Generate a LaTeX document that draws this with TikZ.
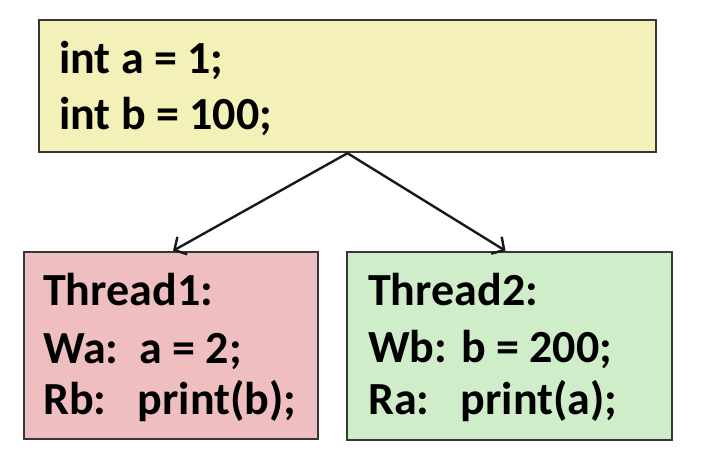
\documentclass[tikz,border=0pt]{standalone}
\usepackage{fontspec}
\setmainfont{Carlito}
\usetikzlibrary{arrows.meta}
\definecolor{boxyellow}{RGB}{244,241,184}
\definecolor{boxpink}{RGB}{239,190,192}
\definecolor{boxgreen}{RGB}{207,237,201}
\definecolor{boxline}{RGB}{55,55,55}
\tikzset{
  codebox/.style={draw=boxline, line width=2.4pt, rectangle, inner sep=0pt},
  codetext/.style={anchor=base west, inner sep=0pt, font=\fontsize{46}{56}\bfseries\selectfont},
  flow/.style={draw=black!90, line width=2.4pt, -{Straight Barb[length=9pt,width=20pt,line width=2.4pt]}}
}
\begin{document}
\begin{tikzpicture}[x=1pt,y=-1pt]
\useasboundingbox (0,0) rectangle (704,472);
\node[codebox, fill=boxyellow, minimum width=617pt, minimum height=132pt] (init) at (347.5,86) {};
\node[codebox, fill=boxpink, minimum width=294pt, minimum height=187pt] (t1) at (171,345.5) {};
\node[codebox, fill=boxgreen, minimum width=325pt, minimum height=188pt] (t2) at (509.5,346) {};
\node[codetext] (la) at (59,73) {int a = 1;};
\node[codetext] (lb) at (59,129) {int b = 100;};
\node[codetext] (t1a) at (43,305) {Thread1:};
\node[codetext] (t1b) at (43,363) {Wa:\ \ a = 2;};
\node[codetext] (t1c) at (43,414) {Rb:\ \ \ print(b);};
\node[codetext] (t2a) at (368,305) {Thread2:};
\node[codetext] (t2b) at (368,362) {Wb: b = 200;};
\node[codetext] (t2c) at (368,414) {Ra:\ \ \ print(a);};
\draw[flow] (init.south) -- ([xshift=2pt]t1.north);
\draw[flow] (init.south) -- ([xshift=-4pt]t2.north);
\end{tikzpicture}
\end{document}
